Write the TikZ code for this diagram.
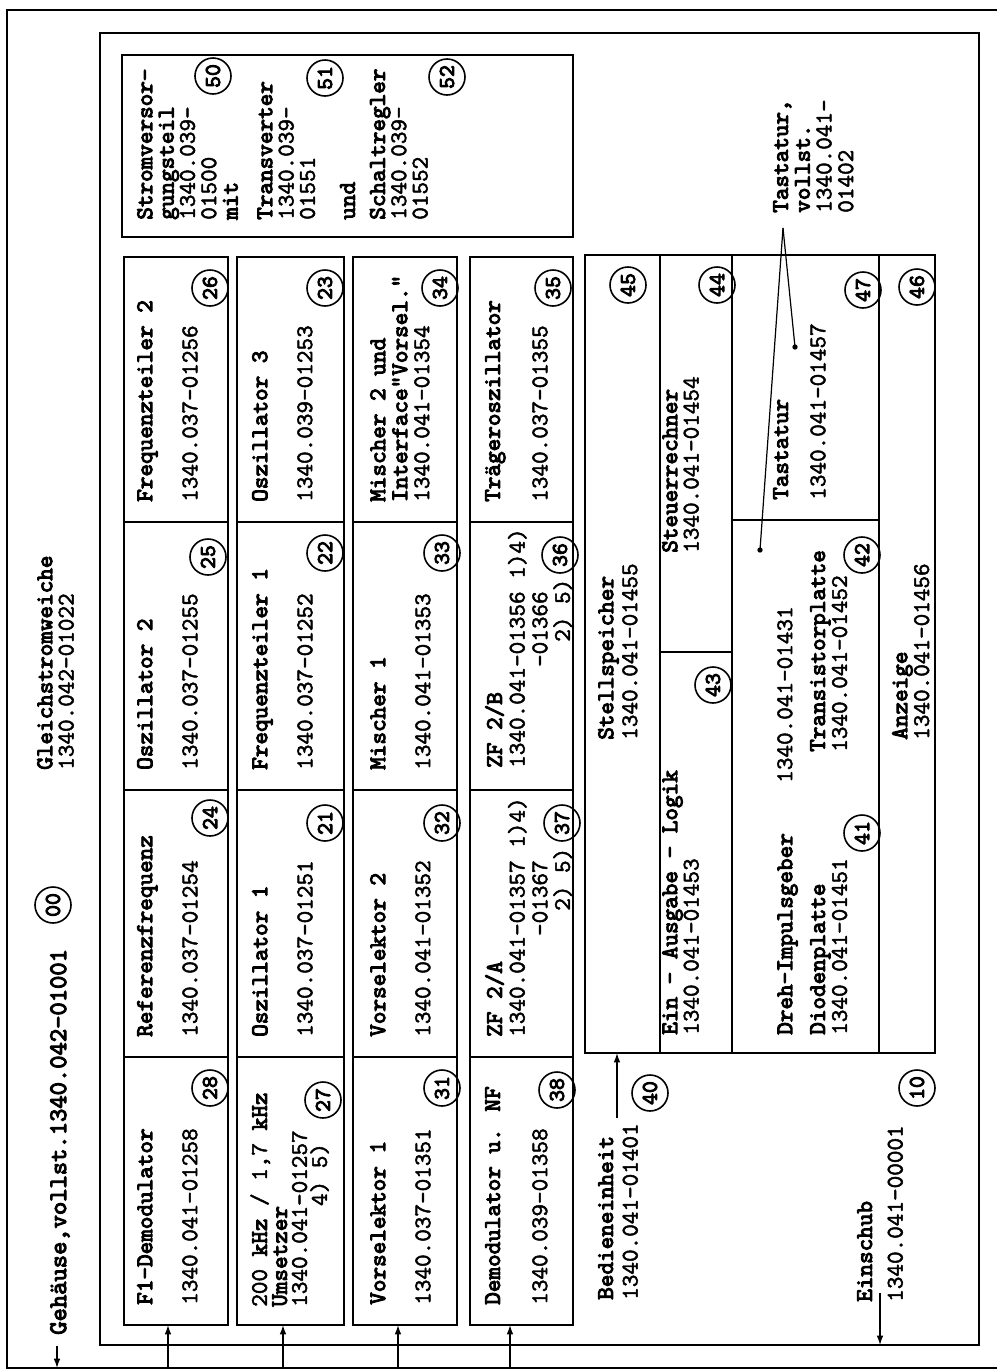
\documentclass[tikz,border=0pt]{standalone}
\usepackage{fontspec}
\usetikzlibrary{arrows.meta}
\newfontfamily\twb[FakeBold=4]{lmmono10-regular.otf}
\newfontfamily\twn[FakeBold=2]{lmmono10-regular.otf}
\tikzset{
  frame/.style={line width=1.4pt},
  cell/.style={line width=1.4pt},
  lbl/.style={rotate=90, anchor=north west, inner sep=0pt, align=left, font=\fontsize{18}{16}\selectfont\twb},
  numl/.style={lbl, font=\fontsize{18}{16}\selectfont\twn},
  cnum/.style={draw, circle, line width=1.2pt, minimum size=27pt, inner sep=0pt, rotate=90, font=\fontsize{17}{17}\selectfont\twb},
  arr/.style={line width=1pt, -{Latex[length=7pt,width=5pt]}},
  lead/.style={line width=0.9pt},
}
\begin{document}
\begin{tikzpicture}[x=0.75pt, y=-0.75pt]
\useasboundingbox (0,0) rectangle (997,1371);
% frames
\draw[frame] (997,10) -- (7,10) -- (7,1368) -- (997,1368);
\draw[frame] (100,33) rectangle (979,1345);
% power supply box
\draw[cell] (122,55) rectangle (573,237);
% strips
\foreach \a/\b in {124/228, 237/344, 353/457, 470/573}{
  \draw[cell] (\a,257) rectangle (\b,1325);
  \foreach \yy in {522,790,1057} \draw[cell] (\a,\yy) -- (\b,\yy);
}
% operating unit block
\draw[cell] (585,255) rectangle (935,1053);
\foreach \xx in {660,732,879} \draw[cell] (\xx,255) -- (\xx,1053);
\draw[cell] (660,652) -- (732,652);
\draw[cell] (732,520) -- (879,520);

% housing labels
\node[lbl, font=\fontsize{19}{16}\selectfont\twb] (geh) at (50,1335) {Gehäuse,vollst.1340.042-01001};
\coordinate (ga) at (57,1346);
\coordinate (gb) at (57,1368);
\draw[arr] (ga) -- (gb);
\node[cnum] (c00) at (53,905) {00};
\node[lbl] (gsw) at (37,770) {Gleichstromweiche\\{\twn 1340.042-01022}};

% strip 1
\node[lbl] (t28) at (137,1305) {F1-Demodulator};
\node[numl] (n28) at (182,1305) {1340.041-01258};
\node[cnum] (c28) at (210,1088) {28};
\node[lbl] (t24) at (137,1037) {Referenzfrequenz};
\node[numl] (n24) at (182,1037) {1340.037-01254};
\node[cnum] (c24) at (210,818) {24};
\node[lbl] (t25) at (137,770) {Oszillator 2};
\node[numl] (n25) at (182,770) {1340.037-01255};
\node[cnum] (c25) at (208,557) {25};
\node[lbl] (t26) at (137,502) {Frequenzteiler 2};
\node[numl] (n26) at (182,502) {1340.037-01256};
\node[cnum] (c26) at (210,288) {26};

% strip 2
\node[lbl, font=\fontsize{18}{15}\selectfont\twn] (t27) at (250,1307) {200 {\twb kHz} / 1,7 {\twb kHz}\\{\twb Umsetzer}\\1340.041-01257\\\hphantom{1340.041}4) 5)};
\node[cnum] (c27) at (323,1100) {27};
\node[lbl] (t21) at (252,1037) {Oszillator 1};
\node[numl] (n21) at (297,1037) {1340.037-01251};
\node[cnum] (c21) at (325,823) {21};
\node[lbl] (t22) at (252,770) {Frequenzteiler 1};
\node[numl] (n22) at (297,770) {1340.037-01252};
\node[cnum] (c22) at (325,553) {22};
\node[lbl] (t23) at (252,502) {Oszillator 3};
\node[numl] (n23) at (297,502) {1340.039-01253};
\node[cnum] (c23) at (325,288) {23};

% strip 3
\node[lbl] (t31) at (370,1305) {Vorselektor 1};
\node[numl] (n31) at (415,1305) {1340.037-01351};
\node[cnum] (c31) at (442,1088) {31};
\node[lbl] (t32) at (370,1037) {Vorselektor 2};
\node[numl] (n32) at (415,1037) {1340.041-01352};
\node[cnum] (c32) at (442,823) {32};
\node[lbl] (t33) at (370,770) {Mischer 1};
\node[numl] (n33) at (415,770) {1340.041-01353};
\node[cnum] (c33) at (442,553) {33};
\node[lbl, font=\fontsize{18}{16.5}\selectfont\twb] (t34) at (370,502) {Mischer 2 und\\Interface"Vorsel."\\{\twn 1340.041-01354}};
\node[cnum] (c34) at (440,288) {34};

% strip 4
\node[lbl] (t38) at (485,1305) {Demodulator u. NF};
\node[numl] (n38) at (532,1305) {1340.039-01358};
\node[cnum] (c38) at (557,1090) {38};
\node[lbl, font=\fontsize{18}{17}\selectfont\twn] (t37) at (485,1037) {{\twb ZF 2/A}\\1340.041-01357\hphantom{0}1)4)\\\hphantom{1340.041}-01367\\\hphantom{1340.041-0}2) 5)};
\node[cnum] (c37) at (562,823) {37};
\node[lbl, font=\fontsize{18}{17}\selectfont\twn] (t36) at (485,768) {{\twb ZF 2/B}\\1340.041-01356\hphantom{0}1)4)\\\hphantom{1340.041}-01366\\\hphantom{1340.041-0}2) 5)};
\node[cnum] (c36) at (560,555) {36};
\node[lbl] (t35) at (485,502) {Trägeroszillator};
\node[numl] (n35) at (532,502) {1340.037-01355};
\node[cnum] (c35) at (553,288) {35};

% power supply
\node[lbl, font=\fontsize{18}{16}\selectfont\twn] (tps) at (137,220) {{\twb Stromversor-}\\{\twb gungsteil}\\1340.039-\\01500\\{\twb mit}\\[10pt]{\twb Transverter}\\1340.039-\\01551\\[14pt]{\twb und}\\[6.5pt]{\twb Schaltregler}\\1340.039-\\01552};
\node[cnum] (c50) at (213,76) {50};
\node[cnum] (c51) at (325,78) {51};
\node[cnum] (c52) at (447,77) {52};

% operating unit contents
\node[lbl, font=\fontsize{18}{18}\selectfont\twb] (tst) at (598,740) {Stellspeicher\\{\twn 1340.041-01455}};
\node[cnum] (c45) at (628,285) {45};
\node[lbl] (tsr) at (662,553) {Steuerrechner\\{\twn 1340.041-01454}};
\node[cnum] (c44) at (717,285) {44};
\node[lbl] (teal) at (662,1035) {Ein - Ausgabe - Logik\\{\twn 1340.041-01453}};
\node[cnum] (c43) at (713,685) {43};
\node[lbl] (tta) at (773,500) {Tastatur};
\node[numl] (nta) at (810,500) {1340.041-01457};
\node[cnum] (c47) at (863,290) {47};
\node[lbl] (tdr) at (777,1035) {Dreh-Impulsgeber\hphantom{0000}{\twn 1340.041-01431}};
\node[lbl, font=\fontsize{18}{16.5}\selectfont\twb] (tdi) at (810,1035) {Diodenplatte\\{\twn 1340.041-01451}};
\node[lbl, font=\fontsize{18}{16.5}\selectfont\twb] (ttr) at (810,752) {Transistorplatte\\{\twn 1340.041-01452}};
\node[cnum] (c41) at (862,833) {41};
\node[cnum] (c42) at (862,555) {42};
\node[lbl, font=\fontsize{18}{15}\selectfont\twb] (tan) at (892,740) {Anzeige\\{\twn 1340.041-01456}};
\node[cnum] (c46) at (917,287) {46};

% keyboard callout
\node[lbl, font=\fontsize{18}{16.3}\selectfont\twb] (ttv) at (773,213) {Tastatur,\\vollst.\\{\twn 1340.041-}\\{\twn 01402}};
\coordinate (tvroot) at (783,228);
\coordinate (tvd1) at (795,347);
\coordinate (tvd2) at (760,550);
\draw[lead] (tvroot) -- (tvd1);
\draw[lead] (tvroot) -- (tvd2);
\fill (tvd1) circle (2pt);
\fill (tvd2) circle (2pt);

% Bedieneinheit / Einschub labels
\node[lbl, font=\fontsize{18}{18.5}\selectfont\twb] (tbe) at (598,1300) {Bedieneinheit\\{\twn 1340.041-01401}};
\coordinate (bedstart) at (617,1118);
\coordinate (bedtop) at (617,1053);
\draw[arr] (bedstart) -- (bedtop);
\node[cnum] (c40) at (650,1093) {40};
\node[lbl, font=\fontsize{18}{23}\selectfont\twb] (tes) at (857,1302) {Einschub\\{\twn 1340.041-00001}};
\coordinate (einA) at (880,1293);
\coordinate (einB) at (880,1345);
\draw[arr] (einA) -- (einB);
\node[cnum] (c10) at (917,1088) {10};

% bottom feed arrows
\foreach \xx/\nm in {168/s1, 283/s2, 398/s3, 510/s4}{
  \coordinate (\nm a) at (\xx,1368);
  \coordinate (\nm b) at (\xx,1325);
  \draw[arr] (\nm a) -- (\nm b);
}
\end{tikzpicture}
\end{document}
